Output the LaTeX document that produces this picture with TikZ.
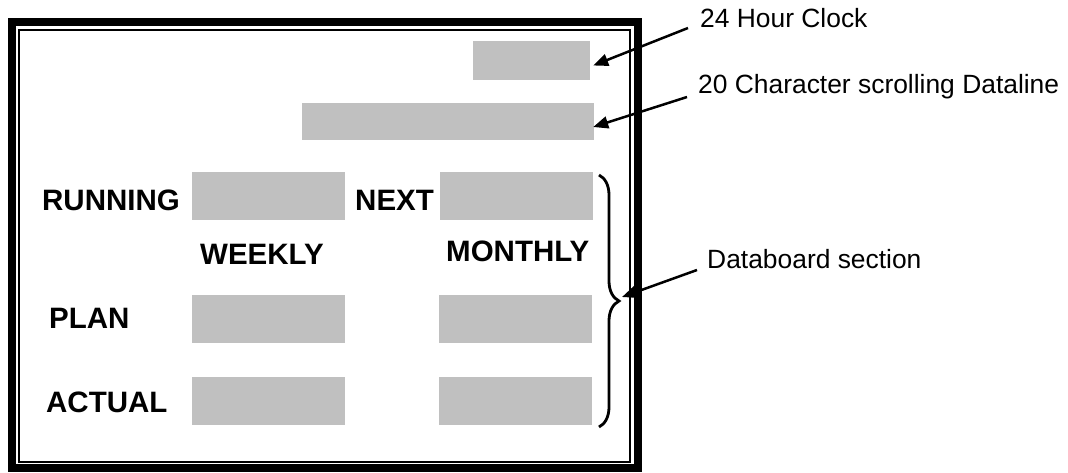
\documentclass[tikz,border=0pt]{standalone}
\usepackage{fontspec}
\setmainfont{Liberation Sans}
\usetikzlibrary{arrows.meta,decorations.pathreplacing}
\definecolor{panelgray}{HTML}{C0C0C0}

\begin{document}
\begin{tikzpicture}[
    x=1pt, y=-1pt,
    dbox/.style={
        rectangle, fill=panelgray, inner sep=0pt,
        minimum width=153pt, minimum height=48pt
    },
    field/.style={
        anchor=base west, inner sep=0pt,
        font=\fontsize{29.5}{34}\selectfont\bfseries
    },
    note/.style={
        anchor=base west, inner sep=0pt,
        font=\fontsize{26.4}{30}\selectfont
    },
    ptr/.style={line width=2.5pt, -{Triangle[length=15pt,width=12pt]}},
]
\useasboundingbox (0,0) rectangle (1068,472);

% frame
\draw[line width=8pt] (12,22) rectangle (638,468);
\draw[line width=1.8pt] (19,30) rectangle (630,462);

% display fields
\node [dbox, minimum width=117pt, minimum height=39pt] (clkbox) at (531.5,60.5) {};
\node [dbox, minimum width=292pt, minimum height=37pt] (dlbox) at (448,121.5) {};
\node [dbox] (runbox)   at (268.5,196) {};
\node [dbox] (nextbox)  at (516.5,196) {};
\node [dbox] (planwk)   at (268.5,319) {};
\node [dbox] (planmo)   at (515,319) {};
\node [dbox] (actwk)    at (268.5,401) {};
\node [dbox] (actmo)    at (515,401) {};

% field labels
\node [field] (running) at (42,210) {RUNNING};
\node [field] (next)    at (355,210) {NEXT};
\node [field] (weekly)  at (200,264) {WEEKLY};
\node [field] (monthly) at (446,261) {MONTHLY};
\node [field] (plan)    at (49,328) {PLAN};
\node [field] (actual)  at (46,412) {ACTUAL};

% notes
\node [note] (clknote) at (700,27) {24 Hour Clock};
\node [note] (dlnote)  at (698,93) {20 Character scrolling Dataline};
\node [note] (dbnote)  at (707,268) {Databoard section};

% brace round the databoard
\coordinate (br-top) at (599,175);
\coordinate (br-bot) at (599,427);
\coordinate (br-tip) at (622,297);
\draw[line width=2.8pt, decorate, decoration={brace, amplitude=20pt}] (br-top) -- (br-bot);

% pointers
\coordinate (clk-from) at (688,28);
\coordinate (dl-from)  at (687,97);
\coordinate (db-from)  at (697,270);
\draw[ptr] (clk-from) -- ([xshift=3pt,yshift=-5pt]clkbox.east);
\draw[ptr] (dl-from) -- ([xshift=-1pt,yshift=-5.5pt]dlbox.east);
\draw[ptr] (db-from) -- (br-tip);

\end{tikzpicture}
\end{document}
